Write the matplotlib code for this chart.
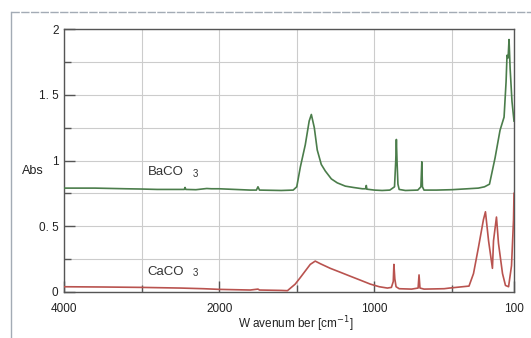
import numpy as np
import matplotlib
matplotlib.use("Agg")
import matplotlib.pyplot as plt
from matplotlib.lines import Line2D

# BaCO3 spectrum, (wavenumber, absorbance)
baco3_wn = [4000, 3600, 3200, 3000, 2800, 2600, 2450, 2440, 2430, 2300, 2160, 2100,
            2000, 1900, 1800, 1760, 1750, 1740, 1600, 1523, 1500, 1477, 1445, 1420,
            1406, 1387, 1368, 1342, 1316, 1277, 1239, 1187, 1135, 1077, 1056, 1052,
            1048, 1000, 950, 900, 870, 862, 858, 854, 848, 840, 800, 720, 700, 694,
            690, 680, 600, 500, 400, 330, 290, 258, 240, 222, 190, 164, 151, 145,
            138, 132, 125, 113, 100]
baco3_abs = [0.79, 0.79, 0.785, 0.783, 0.78, 0.78, 0.78, 0.795, 0.78, 0.778, 0.787, 0.785,
             0.785, 0.78, 0.775, 0.775, 0.80, 0.775, 0.772, 0.775, 0.80, 0.95, 1.12, 1.30,
             1.35, 1.25, 1.08, 0.97, 0.92, 0.86, 0.83, 0.805, 0.795, 0.785, 0.785, 0.81,
             0.782, 0.775, 0.772, 0.775, 0.80, 1.00, 1.16, 1.00, 0.82, 0.78, 0.772, 0.775, 0.80, 0.99,
             0.80, 0.775, 0.775, 0.778, 0.785, 0.79, 0.80, 0.82, 0.92, 1.02, 1.23, 1.33, 1.60, 1.80,
             1.78, 1.92, 1.70, 1.45, 1.30]

# CaCO3 spectrum
caco3_wn = [4000, 3500, 3000, 2500, 2200, 2000, 1800, 1750, 1740, 1600, 1560, 1510,
            1477, 1445, 1413, 1381, 1348, 1284, 1219, 1155, 1090, 1026, 968, 916, 890,
            878, 874, 868, 860, 840, 760, 718, 712, 706, 680, 550, 516, 390, 361, 329,
            297, 284, 264, 239, 232, 213, 200, 174, 155, 135, 116, 103, 100]
caco3_abs = [0.04, 0.038, 0.035, 0.03, 0.025, 0.02, 0.015, 0.022, 0.015, 0.012, 0.01, 0.06,
             0.11, 0.16, 0.21, 0.235, 0.215, 0.18, 0.15, 0.12, 0.09, 0.06, 0.04, 0.03, 0.035,
             0.08, 0.21, 0.10, 0.04, 0.025, 0.022, 0.03, 0.13, 0.03, 0.022, 0.025, 0.03, 0.045,
             0.14, 0.34, 0.55, 0.61, 0.39, 0.18, 0.39, 0.57, 0.37, 0.14, 0.05, 0.04, 0.20, 0.55,
             0.75]

x_major = [4000, 2000, 1000, 100]
x_major_labels = ["4000", "2000", "1000", "100"]
x_minor = [3000, 1500, 500]
y_major = [0, 0.5, 1, 1.5, 2]
y_major_labels = ["0", "0. 5", "1", "1. 5", "2"]
y_minor = [0.25, 0.75, 1.25, 1.75]


# axis is compressed by 2x above 2000 cm-1
def fwd(w):
    w = np.asarray(w, dtype=float)
    return np.where(w <= 2000, w, 2000 + (w - 2000) / 2)


def inv(u):
    u = np.asarray(u, dtype=float)
    return np.where(u <= 2000, u, 2000 + (u - 2000) * 2)


plt.rcParams['font.family'] = ['Liberation Sans', 'DejaVu Sans']

fig = plt.figure(figsize=(5.31, 3.38), dpi=100)
ax = fig.add_axes([64 / 531, 1 - 292 / 338, 450 / 531, 263 / 338])
ax.set_xscale('function', functions=(fwd, inv))
ax.set_xlim(4000, 100)
ax.set_ylim(0, 2)

ax.plot(baco3_wn, baco3_abs, color='#4b7d4b', lw=1.2, zorder=3)
ax.plot(caco3_wn, caco3_abs, color='#b9534f', lw=1.2, zorder=3)

ax.set_xticks(x_major)
ax.set_xticklabels(x_major_labels)
ax.set_xticks(x_minor, minor=True)
ax.set_yticks(y_major)
ax.set_yticklabels(y_major_labels)
ax.set_yticks(y_minor, minor=True)

ax.grid(True, which='both', color='#cccccc', lw=0.8, zorder=0)
ax.tick_params(which='major', direction='in', length=8, width=1, color='#555555',
               labelsize=8.5, labelcolor='#222222')
ax.tick_params(which='minor', direction='in', length=5, width=1, color='#555555')
ax.tick_params(axis='x', which='major', pad=8)
ax.tick_params(axis='y', which='major', pad=4)
for s in ax.spines.values():
    s.set_color('#555555')
    s.set_linewidth(1)

ax.text(2920, 0.91, "BaCO", fontsize=9.5, color='#333333', va='center')
ax.text(2335, 0.895, "3", fontsize=7, color='#333333', va='center')
ax.text(2920, 0.15, "CaCO", fontsize=9.5, color='#333333', va='center')
ax.text(2335, 0.145, "3", fontsize=7, color='#333333', va='center')

fig.text(22 / 531, 1 - 171 / 338, "Abs", fontsize=9, color='#222222', va='center')
fig.text(296 / 531, 1 - 324 / 338, "W avenum ber [cm$^{-1}$]", fontsize=8.5,
         color='#222222', ha='center', va='center')

# light outer frame
fig.add_artist(Line2D([11 / 531, 11 / 531], [0, 1 - 12 / 338], transform=fig.transFigure,
                      color='#a3abb5', lw=1))
fig.add_artist(Line2D([11 / 531, 1], [1 - 12 / 338, 1 - 12 / 338], transform=fig.transFigure,
                      color='#a3abb5', lw=1, ls=(0, (6, 1))))

fig.savefig('out.png', dpi=100)
